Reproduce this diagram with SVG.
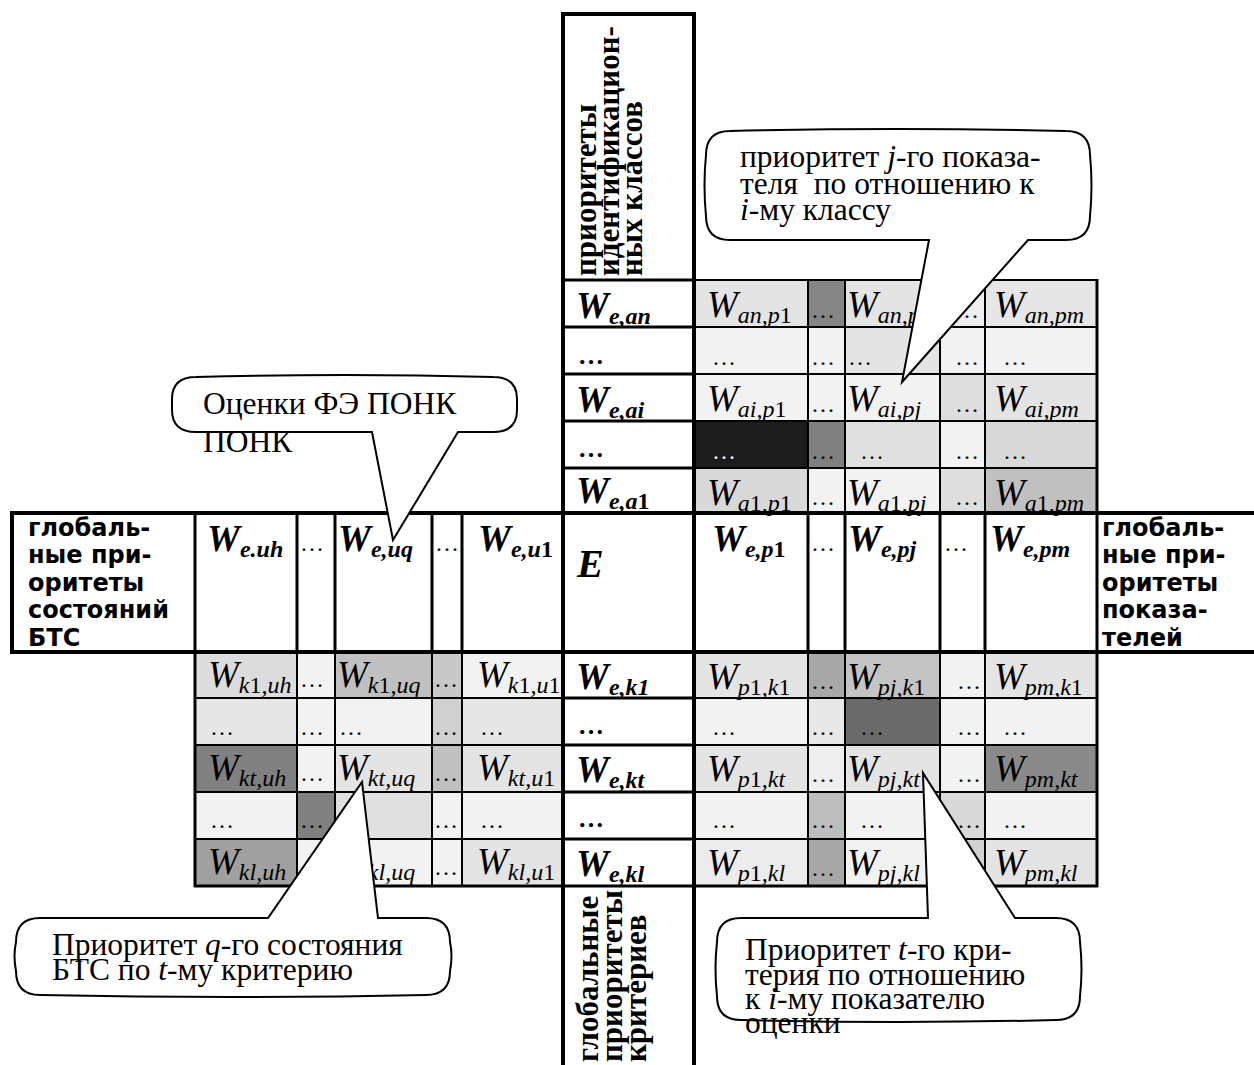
<svg xmlns="http://www.w3.org/2000/svg" width="1254" height="1065" viewBox="0 0 1254 1065">
<style>
.ln{stroke:#000;stroke-width:2;fill:none}
.tk{stroke:#000;stroke-width:4;fill:none}
.md{stroke:#000;stroke-width:3;fill:none}
.w{font-family:"Liberation Serif",serif;font-style:italic;font-size:37px;fill:#000}
.b{font-weight:bold}
.s{font-size:24px}
.n{font-style:normal}
.d{font-family:"Liberation Serif",serif;font-size:24px;letter-spacing:1px;fill:#000}
.db{font-family:"Liberation Serif",serif;font-size:26px;font-weight:bold;fill:#000}
.lbl{font-family:"DejaVu Sans",sans-serif;font-weight:bold;font-size:24px;fill:#000}
.vt{font-family:"Liberation Serif",serif;font-weight:bold;font-size:31px;fill:#000}
.co{font-family:"Liberation Serif",serif;font-size:31.5px;fill:#000}
.cs{fill:#fff;stroke:#000;stroke-width:2}
</style>
<rect width="1254" height="1065" fill="#fff"/>

<g id="matrix-top-right">
<rect x="694" y="280" width="114" height="47" fill="#e4e4e4"/>
<rect x="808" y="280" width="37" height="47" fill="#858585"/>
<rect x="845" y="280" width="95" height="47" fill="#e4e4e4"/>
<rect x="940" y="280" width="45" height="47" fill="#eeeeee"/>
<rect x="985" y="280" width="112" height="47" fill="#e6e6e6"/>
<rect x="694" y="327" width="114" height="47" fill="#f2f2f2"/>
<rect x="808" y="327" width="37" height="47" fill="#f2f2f2"/>
<rect x="845" y="327" width="95" height="47" fill="#e4e4e4"/>
<rect x="940" y="327" width="45" height="47" fill="#f2f2f2"/>
<rect x="985" y="327" width="112" height="47" fill="#f2f2f2"/>
<rect x="694" y="374" width="114" height="47" fill="#f2f2f2"/>
<rect x="808" y="374" width="37" height="47" fill="#f2f2f2"/>
<rect x="845" y="374" width="95" height="47" fill="#f2f2f2"/>
<rect x="940" y="374" width="45" height="47" fill="#dedede"/>
<rect x="985" y="374" width="112" height="47" fill="#e4e4e4"/>
<rect x="694" y="421" width="114" height="47" fill="#1c1c1c"/>
<rect x="808" y="421" width="37" height="47" fill="#808080"/>
<rect x="845" y="421" width="95" height="47" fill="#e0e0e0"/>
<rect x="940" y="421" width="45" height="47" fill="#f2f2f2"/>
<rect x="985" y="421" width="112" height="47" fill="#d8d8d8"/>
<rect x="694" y="468" width="114" height="45" fill="#d8d8d8"/>
<rect x="808" y="468" width="37" height="45" fill="#f2f2f2"/>
<rect x="845" y="468" width="95" height="45" fill="#f2f2f2"/>
<rect x="940" y="468" width="45" height="45" fill="#dedede"/>
<rect x="985" y="468" width="112" height="45" fill="#c0c0c0"/>
<path class="ln" d="M694 280H1097M694 327H1097M694 374H1097M694 421H1097M694 468H1097M808 280V513M845 280V513M940 280V513M985 280V513"/>
<path class="md" d="M1097 279V513"/>
<text class="w" x="707" y="317">W<tspan class="s" dy="6">an,p</tspan><tspan class="s n">1</tspan></text>
<text class="d" x="811" y="318">…</text>
<text class="w" x="847" y="317">W<tspan class="s" dy="6">an,pj</tspan></text>
<text class="d" x="955" y="318">…</text>
<text class="w" x="994" y="317">W<tspan class="s" dy="6">an,pm</tspan></text>
<text class="d" x="712" y="365">…</text>
<text class="d" x="811" y="365">…</text>
<text class="d" x="848" y="365">…</text>
<text class="d" x="955" y="365">…</text>
<text class="d" x="1003" y="365">…</text>
<text class="w" x="707" y="411">W<tspan class="s" dy="6">ai,p</tspan><tspan class="s n">1</tspan></text>
<text class="d" x="811" y="412">…</text>
<text class="w" x="847" y="411">W<tspan class="s" dy="6">ai,pj</tspan></text>
<text class="d" x="955" y="412">…</text>
<text class="w" x="994" y="411">W<tspan class="s" dy="6">ai,pm</tspan></text>
<text class="d" x="712" y="459" style="fill:#fff">…</text>
<text class="d" x="811" y="459">…</text>
<text class="d" x="860" y="459">…</text>
<text class="d" x="955" y="459">…</text>
<text class="d" x="1003" y="459">…</text>
<text class="w" x="707" y="505">W<tspan class="s" dy="6">a</tspan><tspan class="s n">1</tspan><tspan class="s">,p</tspan><tspan class="s n">1</tspan></text>
<text class="d" x="811" y="505">…</text>
<text class="w" x="847" y="505">W<tspan class="s" dy="6">a</tspan><tspan class="s n">1</tspan><tspan class="s">,pj</tspan></text>
<text class="d" x="955" y="505">…</text>
<text class="w" x="994" y="505">W<tspan class="s" dy="6">a</tspan><tspan class="s n">1</tspan><tspan class="s">,pm</tspan></text>
</g>

<g id="matrix-bottom-left">
<rect x="195" y="652" width="102" height="46" fill="#dcdcdc"/>
<rect x="297" y="652" width="38" height="46" fill="#f2f2f2"/>
<rect x="335" y="652" width="97" height="46" fill="#c0c0c0"/>
<rect x="432" y="652" width="30" height="46" fill="#c8c8c8"/>
<rect x="462" y="652" width="101" height="46" fill="#f2f2f2"/>
<rect x="195" y="698" width="102" height="47" fill="#e6e6e6"/>
<rect x="297" y="698" width="38" height="47" fill="#f2f2f2"/>
<rect x="335" y="698" width="97" height="47" fill="#f2f2f2"/>
<rect x="432" y="698" width="30" height="47" fill="#d0d0d0"/>
<rect x="462" y="698" width="101" height="47" fill="#e6e6e6"/>
<rect x="195" y="745" width="102" height="47" fill="#808080"/>
<rect x="297" y="745" width="38" height="47" fill="#f2f2f2"/>
<rect x="335" y="745" width="97" height="47" fill="#e4e4e4"/>
<rect x="432" y="745" width="30" height="47" fill="#c0c0c0"/>
<rect x="462" y="745" width="101" height="47" fill="#e4e4e4"/>
<rect x="195" y="792" width="102" height="47" fill="#f2f2f2"/>
<rect x="297" y="792" width="38" height="47" fill="#808080"/>
<rect x="335" y="792" width="97" height="47" fill="#e0e0e0"/>
<rect x="432" y="792" width="30" height="47" fill="#f2f2f2"/>
<rect x="462" y="792" width="101" height="47" fill="#f2f2f2"/>
<rect x="195" y="839" width="102" height="47" fill="#a0a0a0"/>
<rect x="297" y="839" width="38" height="47" fill="#f2f2f2"/>
<rect x="335" y="839" width="97" height="47" fill="#f2f2f2"/>
<rect x="432" y="839" width="30" height="47" fill="#f2f2f2"/>
<rect x="462" y="839" width="101" height="47" fill="#e4e4e4"/>
<path class="ln" d="M195 698H563M195 745H563M195 792H563M195 839H563M297 652V886M335 652V886M432 652V886M462 652V886"/>
<path class="md" d="M195 652V887M194 886H563"/>
<text class="w" x="208" y="687">W<tspan class="s" dy="6">k</tspan><tspan class="s n">1</tspan><tspan class="s">,uh</tspan></text>
<text class="d" x="300" y="687">…</text>
<text class="w" x="337" y="687">W<tspan class="s" dy="6">k</tspan><tspan class="s n">1</tspan><tspan class="s">,uq</tspan></text>
<text class="d" x="434" y="687">…</text>
<text class="w" x="477" y="687">W<tspan class="s" dy="6">k</tspan><tspan class="s n">1</tspan><tspan class="s">,u</tspan><tspan class="s n">1</tspan></text>
<text class="d" x="210" y="735">…</text>
<text class="d" x="300" y="735">…</text>
<text class="d" x="339" y="735">…</text>
<text class="d" x="434" y="735">…</text>
<text class="d" x="480" y="735">…</text>
<text class="w" x="208" y="780">W<tspan class="s" dy="6">kt,uh</tspan></text>
<text class="d" x="300" y="781">…</text>
<text class="w" x="337" y="780">W<tspan class="s" dy="6">kt,uq</tspan></text>
<text class="d" x="434" y="781">…</text>
<text class="w" x="477" y="780">W<tspan class="s" dy="6">kt,u</tspan><tspan class="s n">1</tspan></text>
<text class="d" x="210" y="828">…</text>
<text class="d" x="300" y="828">…</text>
<text class="d" x="434" y="828">…</text>
<text class="d" x="480" y="828">…</text>
<text class="w" x="208" y="874">W<tspan class="s" dy="6">kl,uh</tspan></text>
<text class="w" x="337" y="874">W<tspan class="s" dy="6">kl,uq</tspan></text>
<text class="d" x="434" y="875">…</text>
<text class="w" x="477" y="874">W<tspan class="s" dy="6">kl,u</tspan><tspan class="s n">1</tspan></text>
</g>

<g id="matrix-bottom-right">
<rect x="694" y="652" width="114" height="46" fill="#e4e4e4"/>
<rect x="808" y="652" width="37" height="46" fill="#a8a8a8"/>
<rect x="845" y="652" width="95" height="46" fill="#c4c4c4"/>
<rect x="940" y="652" width="45" height="46" fill="#f2f2f2"/>
<rect x="985" y="652" width="112" height="46" fill="#e4e4e4"/>
<rect x="694" y="698" width="114" height="47" fill="#f2f2f2"/>
<rect x="808" y="698" width="37" height="47" fill="#e8e8e8"/>
<rect x="845" y="698" width="95" height="47" fill="#6a6a6a"/>
<rect x="940" y="698" width="45" height="47" fill="#f2f2f2"/>
<rect x="985" y="698" width="112" height="47" fill="#f2f2f2"/>
<rect x="694" y="745" width="114" height="47" fill="#e4e4e4"/>
<rect x="808" y="745" width="37" height="47" fill="#eeeeee"/>
<rect x="845" y="745" width="95" height="47" fill="#e4e4e4"/>
<rect x="940" y="745" width="45" height="47" fill="#f2f2f2"/>
<rect x="985" y="745" width="112" height="47" fill="#8a8a8a"/>
<rect x="694" y="792" width="114" height="47" fill="#f2f2f2"/>
<rect x="808" y="792" width="37" height="47" fill="#bdbdbd"/>
<rect x="845" y="792" width="95" height="47" fill="#f2f2f2"/>
<rect x="940" y="792" width="45" height="47" fill="#d8d8d8"/>
<rect x="985" y="792" width="112" height="47" fill="#f2f2f2"/>
<rect x="694" y="839" width="114" height="47" fill="#ececec"/>
<rect x="808" y="839" width="37" height="47" fill="#a8a8a8"/>
<rect x="845" y="839" width="95" height="47" fill="#f2f2f2"/>
<rect x="940" y="839" width="45" height="47" fill="#d0d0d0"/>
<rect x="985" y="839" width="112" height="47" fill="#e4e4e4"/>
<path class="ln" d="M694 698H1097M694 745H1097M694 792H1097M694 839H1097M808 652V886M845 652V886M940 652V886M985 652V886"/>
<path class="md" d="M1097 652V887M694 886H1098"/>
<text class="w" x="707" y="689">W<tspan class="s" dy="6">p</tspan><tspan class="s n">1</tspan><tspan class="s">,k</tspan><tspan class="s n">1</tspan></text>
<text class="d" x="811" y="689">…</text>
<text class="w" x="847" y="689">W<tspan class="s" dy="6">pj,k</tspan><tspan class="s n">1</tspan></text>
<text class="d" x="957" y="689">…</text>
<text class="w" x="994" y="689">W<tspan class="s" dy="6">pm,k</tspan><tspan class="s n">1</tspan></text>
<text class="d" x="712" y="735">…</text>
<text class="d" x="811" y="735">…</text>
<text class="d" x="860" y="735">…</text>
<text class="d" x="957" y="735">…</text>
<text class="d" x="1003" y="735">…</text>
<text class="w" x="707" y="781">W<tspan class="s" dy="6">p</tspan><tspan class="s n">1</tspan><tspan class="s">,kt</tspan></text>
<text class="d" x="811" y="782">…</text>
<text class="w" x="847" y="781">W<tspan class="s" dy="6">pj,kt</tspan></text>
<text class="d" x="957" y="782">…</text>
<text class="w" x="994" y="781">W<tspan class="s" dy="6">pm,kt</tspan></text>
<text class="d" x="712" y="828">…</text>
<text class="d" x="811" y="828">…</text>
<text class="d" x="860" y="828">…</text>
<text class="d" x="957" y="828">…</text>
<text class="d" x="1003" y="828">…</text>
<text class="w" x="707" y="875">W<tspan class="s" dy="6">p</tspan><tspan class="s n">1</tspan><tspan class="s">,kl</tspan></text>
<text class="d" x="811" y="876">…</text>
<text class="w" x="847" y="875">W<tspan class="s" dy="6">pj,kl</tspan></text>
<text class="w" x="994" y="875">W<tspan class="s" dy="6">pm,kl</tspan></text>
</g>

<g id="center-band">
<path class="md" d="M195 513V652M297 513V652M335 513V652M432 513V652M462 513V652M808 513V652M845 513V652M940 513V652M985 513V652M1097 513V652"/>
<path class="tk" d="M12 513H1254M12 652H1254M12 511V654"/>
<text class="lbl" x="28" y="536">глобаль-</text>
<text class="lbl" x="28" y="563">ные при-</text>
<text class="lbl" x="28" y="591">оритеты</text>
<text class="lbl" x="28" y="618">состояний</text>
<text class="lbl" x="28" y="646">БТС</text>
<text class="w b" x="207" y="551">W<tspan class="s" dy="6">e.uh</tspan></text>
<text class="d" x="300" y="551">…</text>
<text class="w b" x="338" y="551">W<tspan class="s" dy="6">e,uq</tspan></text>
<text class="d" x="435" y="551">…</text>
<text class="w b" x="478" y="551">W<tspan class="s" dy="6">e,u</tspan><tspan class="s n">1</tspan></text>
<text class="w b" x="577" y="577" style="font-size:40px">E</text>
<text class="w b" x="712" y="551">W<tspan class="s" dy="6">e,p</tspan><tspan class="s n">1</tspan></text>
<text class="d" x="811" y="551">…</text>
<text class="w b" x="848" y="551">W<tspan class="s" dy="6">e,pj</tspan></text>
<text class="d" x="944" y="551">…</text>
<text class="w b" x="990" y="551">W<tspan class="s" dy="6">e,pm</tspan></text>
<text class="lbl" x="1102" y="536">глобаль-</text>
<text class="lbl" x="1102" y="563">ные при-</text>
<text class="lbl" x="1102" y="591">оритеты</text>
<text class="lbl" x="1102" y="618">показа-</text>
<text class="lbl" x="1102" y="646">телей</text>
</g>

<g id="center-column">
<path class="tk" d="M563 12V1065M694 12V1065M561 14H696"/>
<path class="md" d="M563 280H694M563 327H694M563 374H694M563 421H694M563 468H694M563 698H694M563 745H694M563 792H694M563 839H694M563 886H694"/>
<text class="vt" transform="translate(596,276) rotate(-90)">приоритеты</text>
<text class="vt" transform="translate(619,276) rotate(-90)">идентификацион-</text>
<text class="vt" transform="translate(642,276) rotate(-90)">ных классов</text>
<text class="w b" x="576" y="318">W<tspan class="s" dy="6">e,an</tspan></text>
<text class="db" x="578" y="364">…</text>
<text class="w b" x="576" y="412">W<tspan class="s" dy="6">e,ai</tspan></text>
<text class="db" x="578" y="457">…</text>
<text class="w b" x="576" y="503">W<tspan class="s" dy="6">e,a</tspan><tspan class="s n">1</tspan></text>
<text class="w b" x="576" y="689">W<tspan class="s" dy="6">e,k1</tspan></text>
<text class="db" x="578" y="734">…</text>
<text class="w b" x="576" y="782">W<tspan class="s" dy="6">e,kt</tspan></text>
<text class="db" x="578" y="827">…</text>
<text class="w b" x="576" y="876">W<tspan class="s" dy="6">e,kl</tspan></text>
<text class="vt" transform="translate(598,1062) rotate(-90)">глобальные</text>
<text class="vt" transform="translate(622,1062) rotate(-90)">приоритеты</text>
<text class="vt" transform="translate(646,1062) rotate(-90)">критериев</text>
</g>

<g id="connectors"></g>

<g id="callout-class">
<path class="cs" d="M730 131Q898 127 1066 131Q1090 131 1090 155Q1093 185 1090 216Q1090 240 1066 240H1028L902 382L929 240H730Q706 240 706 216Q703 185 706 155Q706 131 730 131Z"/>
<text class="co" x="740" y="167">приоритет <tspan font-style="italic">j</tspan>-го показа-</text>
<text class="co" x="740" y="194" xml:space="preserve">теля  по отношению к</text>
<text class="co" x="740" y="220"><tspan font-style="italic">i</tspan>-му классу</text>
</g>

<g id="callout-states">
<path class="cs" d="M196 377Q345 373 493 377Q517 377 517 399V410Q517 432 493 432H458L393 540L372 432H196Q172 432 172 410V399Q172 377 196 377Z"/>
<text class="co" x="203" y="414">Оценки ФЭ ПОНК</text>
<text class="co" x="203" y="452">ПОНК</text>
</g>

<g id="callout-state-criterion">
<path class="cs" d="M40 918H268L362 782L378 918H426Q450 918 450 942Q453 956 450 971Q450 995 426 995Q233 999 40 995Q16 995 16 971Q13 956 16 942Q16 918 40 918Z"/>
<text class="co" x="52" y="955">Приоритет <tspan font-style="italic">q</tspan>-го состояния</text>
<text class="co" x="52" y="980">БТС по <tspan font-style="italic">t</tspan>-му критерию</text>
</g>

<g id="callout-criterion-indicator">
<path class="cs" d="M741 918H928L923 773L1015 918H1056Q1080 918 1080 942Q1083 969 1080 996Q1080 1020 1056 1020Q898 1024 741 1020Q717 1020 717 996Q714 969 717 942Q717 918 741 918Z"/>
<text class="co" x="745" y="960">Приоритет <tspan font-style="italic">t</tspan>-го кри-</text>
<text class="co" x="745" y="985">терия по отношению</text>
<text class="co" x="745" y="1009">к <tspan font-style="italic">i</tspan>-му показателю</text>
<text class="co" x="745" y="1033">оценки</text>
</g>
</svg>
